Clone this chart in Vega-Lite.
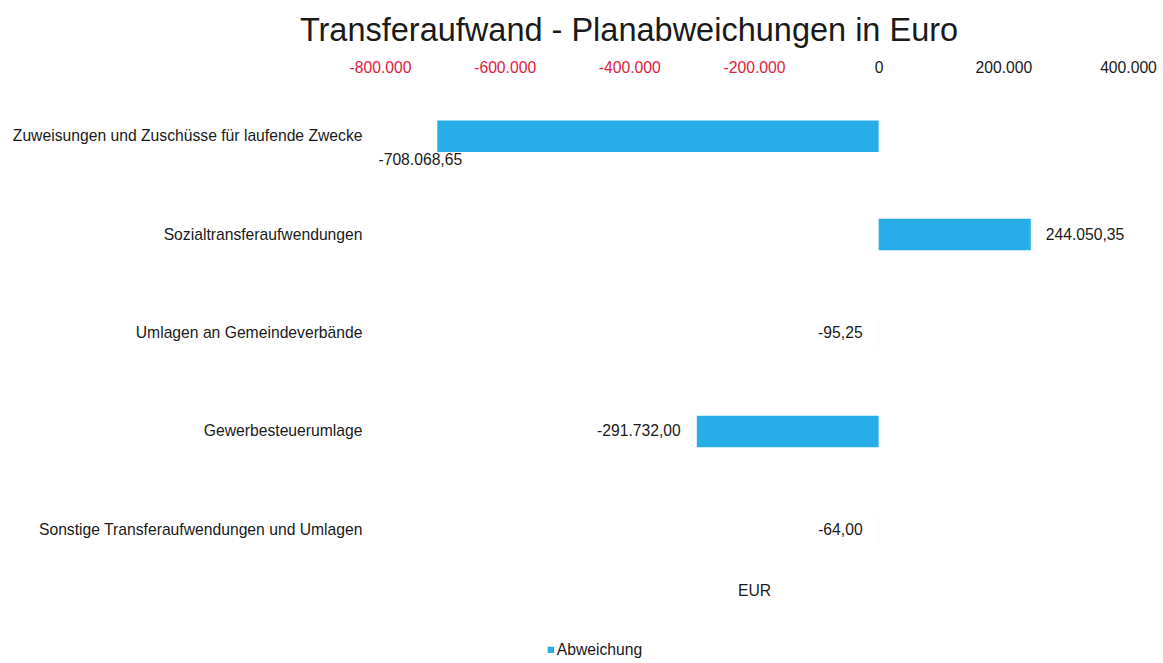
{
  "$schema": "https://vega.github.io/schema/vega-lite/v6.json",
  "width": 748,
  "height": 492,
  "autosize": {"type": "none"},
  "padding": {"left": 380, "top": 87, "right": 35, "bottom": 84},
  "background": "white",
  "config": {
    "view": {"stroke": null},
    "font": "Liberation Sans",
    "locale": {"number": {"decimal": ",", "thousands": ".", "grouping": [3], "currency": ["", " €"], "minus": "-"}}
  },
  "title": {
    "text": "Transferaufwand - Planabweichungen in Euro",
    "fontSize": 32.5,
    "fontWeight": "normal",
    "color": "#1a1a1a",
    "anchor": "middle",
    "dx": -125,
    "offset": 12
  },
  "data": {
    "values": [
      {"kategorie": "Zuweisungen und Zuschüsse für laufende Zwecke", "abweichung": -708068.65},
      {"kategorie": "Sozialtransferaufwendungen", "abweichung": 244050.35},
      {"kategorie": "Umlagen an Gemeindeverbände", "abweichung": -95.25},
      {"kategorie": "Gewerbesteuerumlage", "abweichung": -291732.00},
      {"kategorie": "Sonstige Transferaufwendungen und Umlagen", "abweichung": -64.00}
    ]
  },
  "encoding": {
    "y": {
      "field": "kategorie",
      "type": "nominal",
      "sort": null,
      "scale": {"paddingInner": 0.68, "paddingOuter": 0.34},
      "axis": {
        "title": null,
        "ticks": false,
        "domain": false,
        "labelPadding": 18,
        "labelFontSize": 15.7,
        "labelColor": "#1a1a1a",
        "labelLimit": 600
      }
    }
  },
  "resolve": {"axis": {"x": "independent"}},
  "layer": [
    {
      "mark": {"type": "bar"},
      "encoding": {
        "x": {
          "field": "abweichung",
          "type": "quantitative",
          "scale": {"domain": [-800000, 400000], "nice": false, "zero": true},
          "axis": {
            "orient": "top",
            "title": null,
            "values": [-800000, -600000, -400000, -200000, 0, 200000, 400000],
            "format": ",.0f",
            "ticks": false,
            "domain": false,
            "grid": false,
            "labelFlush": false,
            "labelOverlap": false,
            "labelPadding": 12,
            "labelFontSize": 15.7,
            "labelColor": {"condition": {"test": "datum.value < 0", "value": "#e0213d"}, "value": "#1a1a1a"}
          }
        },
        "color": {
          "datum": "Abweichung",
          "scale": {"range": ["#27AEE8"]},
          "legend": {
            "title": null,
            "orient": "none",
            "legendX": 163,
            "legendY": 555,
            "symbolType": "square",
            "symbolSize": 40,
            "symbolStrokeWidth": 0,
            "labelFontSize": 15.7,
            "labelColor": "#1a1a1a",
            "labelOffset": -2,
            "padding": 0
          }
        }
      }
    },
    {
      "transform": [{"filter": "datum.abweichung < 0 && datum.abweichung > -500000"}],
      "mark": {"type": "text", "align": "right", "baseline": "middle", "dx": -16, "fontSize": 15.7, "color": "#1a1a1a"},
      "encoding": {
        "x": {
          "field": "abweichung",
          "type": "quantitative",
          "axis": {
            "orient": "bottom",
            "title": "EUR",
            "titleFontSize": 15.7,
            "titleFontWeight": "normal",
            "titleColor": "#1a1a1a",
            "titlePadding": 4,
            "labels": false,
            "ticks": false,
            "domain": false,
            "grid": false
          }
        },
        "text": {"field": "abweichung", "type": "quantitative", "format": ",.2f"}
      }
    },
    {
      "transform": [{"filter": "datum.abweichung > 0"}],
      "mark": {"type": "text", "align": "left", "baseline": "middle", "dx": 15, "fontSize": 15.7, "color": "#1a1a1a"},
      "encoding": {
        "x": {"field": "abweichung", "type": "quantitative", "axis": null},
        "text": {"field": "abweichung", "type": "quantitative", "format": ",.2f"}
      }
    },
    {
      "transform": [{"filter": "datum.abweichung <= -500000"}],
      "mark": {"type": "text", "align": "center", "baseline": "middle", "dx": -17, "dy": 24, "fontSize": 15.7, "color": "#1a1a1a"},
      "encoding": {
        "x": {"field": "abweichung", "type": "quantitative", "axis": null},
        "text": {"field": "abweichung", "type": "quantitative", "format": ",.2f"}
      }
    }
  ]
}
